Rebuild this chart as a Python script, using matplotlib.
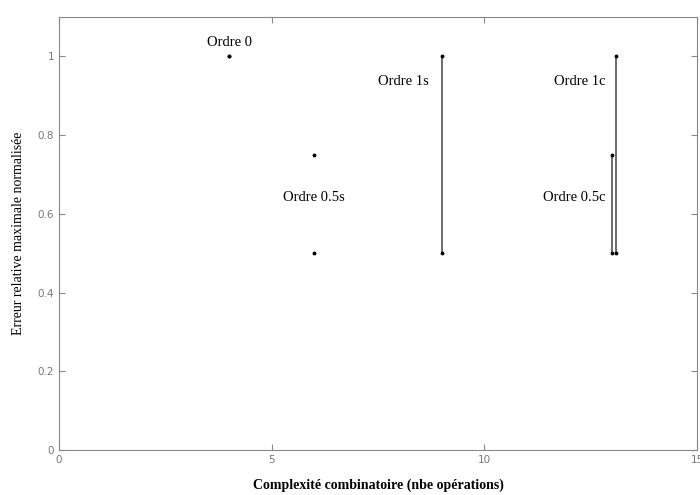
import matplotlib
matplotlib.use("Agg")
import matplotlib.pyplot as plt

# Data
labels = ["Ordre 0", "Ordre 0.5s", "Ordre 1s", "Ordre 0.5c", "Ordre 1c"]
complexity = [4.0, 6.0, 9.0, 13.0, 13.1]
err_low = [1.0, 0.5, 0.5, 0.5, 0.5]
err_high = [1.0, 0.75, 1.0, 0.75, 1.0]
joined = [False, False, True, True, True]

# Label positions (data coords) and alignment
label_x = [4.0, 6.0, 8.7, 12.85, 12.85]
label_y = [1.035, 0.642, 0.935, 0.642, 0.935]
label_ha = ["center", "center", "right", "right", "right"]


def main():
  serif = ["Liberation Serif", "DejaVu Serif"]
  fig = plt.figure(figsize=(7.0, 4.95), dpi=100)
  ax = fig.add_axes([59 / 700, 45 / 495, 638 / 700, 433 / 495])

  for x, lo, hi, j in zip(complexity, err_low, err_high, joined):
    if j:
      ax.plot([x, x], [lo, hi], color="#444444", lw=1.1)
    ax.plot([x, x], [lo, hi], ".", color="black", ms=3.5, ls="none")

  for t, x, y, ha in zip(labels, label_x, label_y, label_ha):
    ax.text(x, y, t, ha=ha, va="center", family=serif, fontsize=10.5)

  ax.set_xlim(0, 15)
  ax.set_ylim(0, 1.1)
  ax.set_xticks([0, 5, 10, 15])
  ax.set_yticks([0, 0.2, 0.4, 0.6, 0.8, 1.0])
  ax.set_yticklabels(["0", "0.2", "0.4", "0.6", "0.8", "1"])
  ax.tick_params(direction="in", length=4, color="#888888", labelcolor="#777777",
                 labelsize=7.5, top=True, right=True)
  for s in ax.spines.values():
    s.set_color("#888888")

  ax.set_xlabel("Complexité combinatoire (nbe opérations)", family=serif,
                fontsize=10, fontweight="bold", labelpad=10)
  ax.set_ylabel("Erreur relative maximale normalisée", family=serif,
                fontsize=10, labelpad=9)

  fig.savefig("out.png", dpi=100)


if __name__ == "__main__":
  main()
